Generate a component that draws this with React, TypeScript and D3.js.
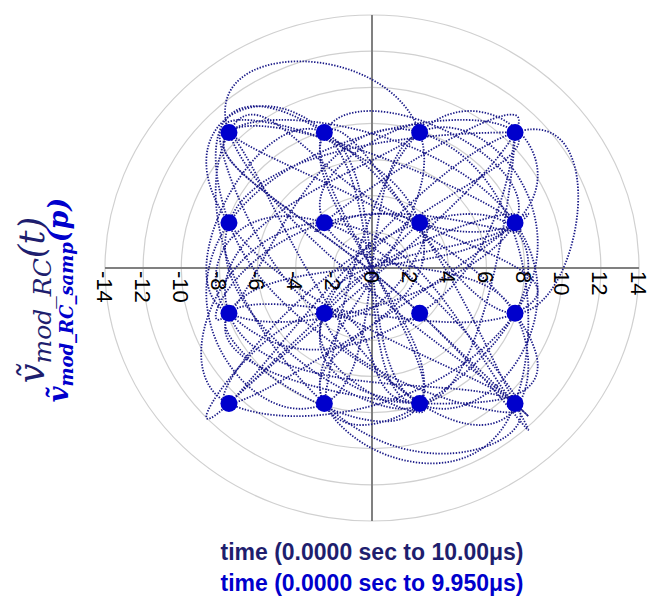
import React from "react";
import * as d3 from "d3";

const W = 648;
const H = 596;

const tickValues = [-14, -12, -10, -8, -6, -4, -2, 0, 2, 4, 6, 8, 10, 12, 14];
const gridRadii = [2, 4, 6, 8, 10, 12, 14];
const levels = [-7.5, -2.5, 2.5, 7.5];

const symI = [
  7.5, -7.5, 2.5, -2.5, 7.5, 7.5, -7.5, 2.5, -2.5, -7.5,
  2.5, 7.5, -2.5, 2.5, -7.5, 7.5, -2.5, -7.5, 2.5, 7.5,
  -2.5, 7.5, -7.5, -2.5, 2.5, 7.5, 2.5, -7.5, -2.5, 7.5,
  -7.5, 2.5, -2.5, 7.5, 2.5, -7.5, 7.5, -2.5, 2.5, -7.5,
  -2.5, 7.5, 2.5, -7.5, 7.5, -2.5, -7.5, 2.5, 7.5, -2.5,
  2.5, -7.5, 7.5, 2.5, -2.5, -7.5, 7.5, -2.5, 2.5, 7.5,
  -7.5, 2.5, -2.5, 7.5, -7.5, -2.5, 2.5, 7.5, -7.5, 2.5,
  7.5, -2.5, -7.5, 7.5, 2.5, -2.5, -7.5, 7.5, -2.5, 2.5,
  -7.5, 7.5, 2.5, -2.5,
];
const symQ = [
  7.5, 2.5, -7.5, 7.5, -2.5, 7.5, -7.5, 2.5, -2.5, 7.5,
  -7.5, -2.5, 2.5, 7.5, -2.5, -7.5, -7.5, 7.5, 2.5, 2.5,
  -2.5, -7.5, 2.5, 7.5, -7.5, 7.5, -2.5, -2.5, 2.5, -7.5,
  7.5, 7.5, -7.5, -2.5, 2.5, -7.5, 2.5, -2.5, -7.5, 2.5,
  7.5, -7.5, -2.5, 7.5, 2.5, 2.5, -2.5, 7.5, -7.5, -7.5,
  2.5, 7.5, -2.5, -7.5, -2.5, -7.5, 7.5, 2.5, 2.5, -2.5,
  -2.5, -7.5, 7.5, 2.5, -2.5, 7.5, -7.5, 2.5, 7.5, -2.5,
  -7.5, 2.5, -7.5, -2.5, 7.5, -7.5, 2.5, 7.5, -2.5, -7.5,
  -2.5, 2.5, 7.5, -7.5,
];

export default function App() {
  const cx = 372;
  const cy = 268;
  const x = d3.scaleLinear().domain([-14, 14]).range([cx - 267, cx + 267]);
  const y = d3.scaleLinear().domain([-14, 14]).range([cy + 253, cy - 253]);

  const pts: [number, number][] = symI.map((v, i) => [v, symQ[i]]);
  const line = d3
    .line<[number, number]>()
    .x((d) => x(d[0]))
    .y((d) => y(d[1]))
    .curve(d3.curveCardinal.tension(-1.1));
  const pathD = line(pts) || "";

  const constellation: [number, number][] = [];
  levels.forEach((q) => levels.forEach((i) => constellation.push([i, q])));

  const navy = "#1e1e6e";
  const blue = "#0000cc";

  return (
    <svg
      width={W}
      height={H}
      style={{ position: "absolute", left: 0, top: 0, background: "#fff" }}
      fontFamily="Liberation Sans, Arial, sans-serif"
    >
      <rect width={W} height={H} fill="#fff" />
      {gridRadii.map((r) => (
        <ellipse
          key={r}
          cx={x(0)}
          cy={y(0)}
          rx={x(r) - x(0)}
          ry={y(0) - y(r)}
          fill="none"
          stroke="#d0d0d0"
          strokeWidth={1.2}
        />
      ))}
      <line x1={x(-14)} x2={x(14)} y1={y(0)} y2={y(0)} stroke="#808080" strokeWidth={2} />
      <line x1={x(0)} x2={x(0)} y1={y(14)} y2={y(-14)} stroke="#808080" strokeWidth={2} />
      <path
        d={pathD}
        fill="none"
        stroke="#1a1a88"
        strokeWidth={1.8}
        strokeDasharray="1.4 1.5"
      />
      {constellation.map((p, i) => (
        <circle key={i} cx={x(p[0])} cy={y(p[1])} r={8.5} fill={blue} />
      ))}
      {tickValues.map((v) => (
        <text
          key={v}
          transform={`translate(${x(v) - 1},${y(0) + 3}) rotate(90)`}
          textAnchor="start"
          dominantBaseline="central"
          fontSize={22}
          fill="#000"
        >
          {v}
        </text>
      ))}
      <text
        transform={`translate(44,300) rotate(-90)`}
        textAnchor="middle"
        fontFamily="DejaVu Serif, Liberation Serif, serif"
        fontStyle="italic"
        fill={navy}
        fontSize={35}
      >
        ṽ
        <tspan fontSize={25} dy={7}>mod_RC</tspan>
        <tspan fontSize={35} dy={-7}>(t)</tspan>
      </text>
      <text
        transform={`translate(68,300) rotate(-90)`}
        textAnchor="middle"
        fontFamily="DejaVu Serif, Liberation Serif, serif"
        fontStyle="italic"
        fontWeight="bold"
        fill={blue}
        fontSize={27}
      >
        ṽ
        <tspan fontSize={18} dy={5}>mod_RC_samp</tspan>
        <tspan fontSize={27} dy={-5}>(p)</tspan>
      </text>
      <text x={372} y={560} textAnchor="middle" fontSize={23} fontWeight="bold" fill={navy}>
        time (0.0000 sec to 10.00μs)
      </text>
      <text x={372} y={591} textAnchor="middle" fontSize={23} fontWeight="bold" fill={blue}>
        time (0.0000 sec to 9.950μs)
      </text>
    </svg>
  );
}
